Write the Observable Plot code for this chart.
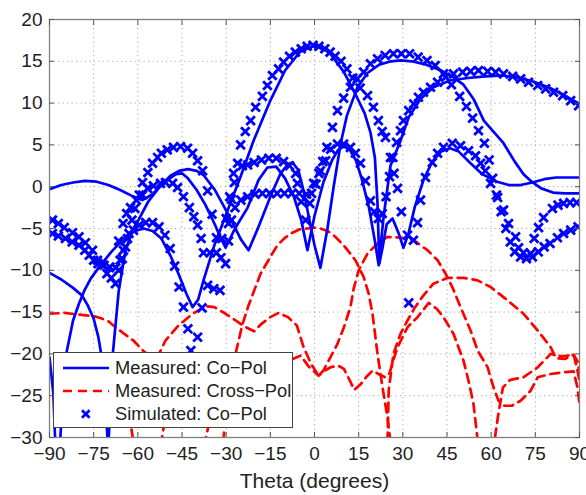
<!DOCTYPE html>
<html>
<head>
<meta charset="utf-8">
<script src="https://cdn.jsdelivr.net/npm/d3@7"></script>
<script src="https://cdn.jsdelivr.net/npm/@observablehq/plot@0.6"></script>
<style>
  html, body { margin: 0; padding: 0; background: #fff; }
  #wrap { position: relative; width: 586px; height: 495px; font-family: "Liberation Sans", Arial, sans-serif; }
  #legend { position: absolute; left: 53px; top: 352px; width: 240px; height: 76px; background: #fff;
            border: 1px solid #444; box-sizing: border-box; font-size: 18.3px; color: #222; }
  .row { position: absolute; left: 0; height: 22px; display: flex; align-items: center; white-space: nowrap; }
  .row svg { margin-left: 8px; margin-right: 5px; }
</style>
</head>
<body>
<div id="wrap">
  <div id="chart"></div>
  <div id="legend"></div>
</div>
<script>
const xTicks = [-90, -75, -60, -45, -30, -15, 0, 15, 30, 45, 60, 75, 90];
const yTicks = [-30, -25, -20, -15, -10, -5, 0, 5, 10, 15, 20];
const legendLabels = ["Measured: Co\u2212Pol", "Measured: Cross\u2212Pol", "Simulated: Co\u2212Pol"];
const xLabel = "Theta (degrees)";

// Measured co-pol (solid blue)
const measCoBroad = [[-86.5,-31],[-84.6,-20.5],[-82,-16],[-80,-14],[-78,-12.3],[-76,-11],[-72.7,-9.4],[-69,-7.8],[-65,-6.3],[-61,-5.3],[-58,-5.0],[-55,-5.3],[-52,-6.2],[-49,-8.2],[-46.2,-10.4],[-43.5,-12.8],[-41.4,-14.4],[-39.5,-13.5],[-37.7,-11.2],[-34,-7],[-30,-3.3],[-25,1.3],[-20.7,5.5],[-15,10.3],[-10,13.9],[-5,16.1],[0,16.9],[5,16.1],[10,13.7],[14,11],[17,8.8],[19,6.5],[20.5,3.5],[21.4,-2],[22,-9.2],[23,-7.5],[24.5,-4.5],[26.5,-3.8],[28.5,-5.5],[30.2,-7.3],[32,-5.5],[34,-2.5],[37,0.8],[40,3.0],[43,4.2],[46,4.6],[49,4.2],[53,2.8],[57,1.5],[62,0.6],[66,0.2],[70,0.2],[74,0.5],[78,0.9],[82,1.1],[86,1.1],[90,1.1]];
const measCo30 = [[-90,-0.3],[-86,0.2],[-82,0.5],[-78,0.7],[-74,0.6],[-70,0.2],[-66,-0.4],[-62,-1.1],[-58.5,-1.6],[-55,-0.9],[-52,0.2],[-49,1.3],[-46,1.9],[-43,2.1],[-40,1.9],[-37.7,1.4],[-34,-0.3],[-31,-2.2],[-28,-4.2],[-25,-6.3],[-22.4,-7.6],[-19,-4.8],[-15,-1.2],[-11.5,1.6],[-9,2.7],[-7.5,2.9],[-5.5,2.0],[-3.7,-0.5],[-2,-3.5],[0,-7],[2,-9.7],[4.4,-5],[6.5,0],[8.9,5.2],[11,8.5],[14.6,11.9],[18,13.6],[22,14.6],[26,15.0],[29.2,15.1],[33,15.0],[38,14.6],[43,13.9],[47,13.1],[50.6,12.2],[54,10.5],[57.5,7.9],[61,6.5],[64.2,5.2],[68,3.0],[71,1.5],[73.4,0.7],[77,-0.2],[81,-0.7],[85,-0.8],[90,-0.8]];
const measCo55 = [[-70,-31],[-68.6,-20.4],[-66.5,-12.5],[-64.2,-7.6],[-61.5,-5.0],[-59.8,-4.0],[-56.5,-1.8],[-53,-0.2],[-50,0.8],[-47,1.5],[-45,1.6],[-43,1.0],[-40,-0.4],[-37,-2.2],[-34,-4.4],[-32,-6],[-30.2,-7.3],[-27,-5],[-22.7,-2.5],[-19,0.8],[-16,2.3],[-13,2.4],[-10,1.0],[-7,-1.2],[-4.5,-4],[-2.4,-7.6],[0,-3.5],[3,0.5],[6,3.2],[8,4.4],[10,4.8],[12,4.4],[14,3.2],[16,1],[18.5,-2.5],[20.5,-6.5],[21.8,-9.4],[23.5,-3.5],[25.8,2.5],[29.2,5.5],[32,8.3],[36,10.5],[40.4,11.9],[46,12.7],[52,13.0],[58,13.2],[64,13.3],[70,13.0],[75,12.5],[80,11.8],[85,10.9],[90,9.9]];
const measCoLow = [[-90,-10.3],[-86,-11.1],[-82,-12.1],[-79,-13],[-77,-14.2],[-75,-15.8],[-73.4,-18],[-72,-21],[-71,-25],[-70.2,-31]];
const measCoEdge = [[-90,-20.4],[-88.7,-24.7],[-88,-31]];

// Simulated co-pol (blue crosses)
const simBroad = [[-89,-5.6],[-87,-5.9],[-84.6,-6.2],[-82.3,-6.6],[-80,-7.0],[-78,-7.6],[-76.5,-8.2],[-75,-8.8],[-73.5,-9.2],[-71.5,-9.4],[-69.5,-9.6],[-67.5,-9.7],[-66,-8.8],[-64.9,-7.6],[-63.5,-6.2],[-61.5,-5.2],[-59.5,-4.6],[-57.3,-4.3],[-55,-4.3],[-52.8,-4.8],[-50.8,-5.8],[-49,-7.4],[-47.5,-9.5],[-46,-12],[-44.5,-14.4],[-43,-17],[-42,-19.6],[-39.7,-18],[-38.2,-14.5],[-36.3,-11.8],[-34.2,-12.2],[-32.1,-12.4],[-30.2,-9.2],[-29.2,-4.4],[-28.2,-1.5],[-27.2,0.5],[-26.1,2.8],[-25.1,5.0],[-23.5,6.6],[-21.7,7.9],[-20,9.5],[-17.7,10.8],[-16,12.1],[-14.3,13.3],[-12.2,14.1],[-10.5,14.9],[-8.5,15.6],[-6.5,16.1],[-4.5,16.5],[-2.5,16.8],[-0.5,16.9],[1.5,16.8],[3.5,16.5],[5.3,16.1],[7,15.6],[9,15.0],[11,14.1],[13,13.0],[15.5,11.8],[18,10.9],[20,9.5],[21.7,7.9],[23,6.6],[24.1,5.9],[25.8,3.5],[27,1.6],[28.2,-0.2],[29.5,-3],[31.6,-5.8],[33.6,-6.4],[35,-4.3],[36,-1.6],[37.7,1.1],[40,2.9],[41.8,4.0],[43.8,4.7],[46.8,5.2],[49.6,4.9],[52.3,4.3],[54.7,3.7],[56.4,2.8],[58,1.9],[59.8,0.4],[62.2,-1.3],[64.2,-2.8],[65.9,-4.4],[68.3,-6.0],[69.3,-7.3],[71,-7.9],[73.4,-8.0],[74.6,-6.2],[76.1,-4.9],[77.8,-3.7],[80.8,-2.6],[82.7,-2.2],[84.6,-2.0],[86.8,-1.9],[89,-1.9]];
const sim30 = [[-89,-4.0],[-87,-4.4],[-85,-4.9],[-82.2,-5.5],[-80,-6.0],[-77.8,-6.7],[-75.4,-7.6],[-73.7,-8.8],[-72.3,-9.3],[-70.5,-10.4],[-69,-10.9],[-67.6,-11.6],[-66.5,-10],[-65.3,-8.6],[-64.2,-7.2],[-63,-5.6],[-62,-4.0],[-61,-2.6],[-59.5,-1.0],[-58.4,0.5],[-56.6,1.7],[-55,2.8],[-53.3,3.5],[-52,4.0],[-50,4.4],[-47.9,4.7],[-45.5,4.8],[-43.1,4.6],[-41.4,4.0],[-39.7,3.1],[-38,1.9],[-36.3,-0.5],[-34.8,-3.3],[-33.3,-6.1],[-31.8,-8.5],[-29.2,-6.5],[-28.2,-4.0],[-27,-2.5],[-25,-1.6],[-22.7,-1.2],[-20.2,-0.9],[-17.7,-0.8],[-15.2,-0.8],[-12.7,-0.8],[-10.2,-0.8],[-7.7,-0.8],[-5.2,-0.8],[-2.7,-0.9],[-1,-0.8],[0.5,0.3],[1.5,1.6],[2.8,3.0],[4.2,4.7],[6.1,7.1],[7.8,9.1],[9.9,10.6],[12.2,11.9],[14.5,12.9],[16.7,13.7],[19,14.7],[21.4,15.3],[24,15.7],[26.8,15.9],[29.5,15.9],[32.3,15.9],[35.2,15.5],[38.2,15.1],[41,14.5],[43.8,13.5],[46.5,12.2],[49.3,10.8],[51.6,9.6],[53.7,8.2],[55.7,6.7],[57.7,5.2],[59.3,3.2],[60.5,1.0],[61.8,-1.0],[63.4,-3.0],[65,-5.0],[66.5,-6.6],[68,-7.8],[70,-8.4],[72,-8.6],[74,-8.4],[76,-7.8],[78,-7.2],[80,-6.8],[82.5,-6.1],[84.6,-5.6],[87,-5.2],[89.5,-4.8]];
const sim55 = [[-66.5,-6.5],[-65,-4.4],[-63.8,-3.2],[-62.5,-2.5],[-60.5,-1.6],[-58.4,-1.0],[-56.7,-0.2],[-54.7,0.1],[-52.3,0.4],[-50.6,0.5],[-48.2,0.4],[-46.5,-0.1],[-44.5,-1.2],[-42.5,-2.5],[-41,-3.6],[-39.7,-4.6],[-38.5,-6.2],[-37.7,-7.9],[-35.5,-7.9],[-33.3,-7.9],[-31.5,-6.2],[-30,-3.8],[-28.8,-1.2],[-27.5,1.6],[-24.5,2.5],[-22.7,2.6],[-20.5,2.9],[-18,3.2],[-15.5,3.4],[-13,3.4],[-10.5,3.0],[-8.5,2.5],[-6.4,1.6],[-5.8,0.4],[-4.5,-1.8],[-3,-4.0],[-1.6,-2.0],[-0.3,0.4],[2,1.9],[3.8,3.1],[5.5,4.5],[7.8,5.1],[9.9,5.1],[12.2,4.7],[13.9,4.0],[15.6,2.8],[17.3,0.7],[19,-1.7],[20.3,-3],[21.7,-3.8],[23,-3.2],[24.3,-1.2],[25.5,1.2],[26.6,3.5],[27.9,5.3],[29.2,6.7],[30.2,7.9],[32,9.1],[33.7,9.9],[35.3,10.7],[37,11.3],[39.4,11.9],[41.8,12.5],[44.5,13.1],[47.2,13.5],[50.3,13.7],[53,13.8],[55.7,13.9],[58.8,13.8],[61.5,13.7],[64.2,13.5],[67.3,13.2],[70,12.9],[72.7,12.5],[75.8,12.1],[78.5,11.7],[81.2,11.3],[84.3,10.9],[87,10.3],[89.7,9.7]];
const simExtra = [[32,-13.9]];

// Measured cross-pol (red dashed)
const crossA = [[-90,-15.2],[-85,-15.1],[-80,-15.3],[-75,-15.5],[-72.7,-15.7],[-70,-16.1],[-68.3,-16.6],[-65,-17.5],[-61.5,-18.4],[-58,-19.7],[-55,-20.5],[-52.5,-19.8],[-50.6,-18.4],[-46.2,-16.6],[-41.4,-15.2],[-37,-14.3],[-34,-14.4],[-30.2,-15.2],[-26.8,-16],[-23.4,-16.8],[-20.5,-17.3],[-18,-16.4],[-15,-15.6],[-12.2,-15.1],[-9,-15.6],[-6,-16.6],[-3.7,-19.2],[-1,-21.3],[1.4,-22.6],[3,-22],[4.8,-20.8],[7.8,-18.8],[10,-16.8],[12.2,-14.4],[13.3,-12.2],[15,-10],[18,-8],[21.4,-6.8],[24.8,-6.0],[29.2,-6.1],[33.7,-6.4],[38.4,-7.6],[41.8,-8.8],[44.5,-10.4],[46.8,-12],[49.6,-14.4],[53,-17.2],[55.4,-19.6],[58.8,-21.6],[60.8,-24],[62.5,-25.6],[64.5,-26.2],[67,-26.2],[70,-25.6],[73.4,-24.4],[75.8,-22.8],[80.2,-22.4],[84.6,-22.2],[88,-22.1],[89.3,-24],[90,-26]];
const crossB = [[-31,-30.5],[-30,-27],[-28.5,-23.5],[-26.5,-19.5],[-24.5,-16.5],[-22.4,-14.2],[-18.3,-10.4],[-15,-8.4],[-12.6,-7.0],[-10,-6.1],[-7.5,-5.5],[-5,-5.1],[-2.4,-5.0],[0,-4.9],[2,-5.0],[4.5,-5.3],[6.5,-5.8],[9.9,-7.0],[13.9,-8.8],[16.7,-10.8],[18.4,-12.8],[19.7,-15.2],[21.4,-20],[23.1,-24],[24.8,-27.6],[25.8,-30.5]];
const crossC = [[-37.5,-31],[-35,-27],[-30,-24],[-20,-22.5],[-10,-21],[-4.7,-20.2],[-2,-21.5],[1.4,-22.6],[3.5,-22],[5.5,-21.6],[8,-21.4],[10,-21.8],[12,-23.2],[13.5,-24.3],[15.5,-23.7],[17.5,-22.8],[19.7,-22],[21.7,-22.4],[24,-22.8],[25.5,-22.3],[27,-20.5],[28.2,-19.2],[31.6,-16.8],[35,-15.6],[38.8,-13.9],[41.5,-14.6],[43.8,-15.6],[47.2,-17.6],[50.6,-20.8],[52.5,-23.5],[54,-26],[55.3,-30],[57.5,-34],[60,-33],[61.3,-30],[62.3,-27.5],[64,-24],[66.5,-23.1],[71,-22.8],[75.8,-21.6],[80.2,-20],[84,-20.3],[88,-20.1],[89.2,-21.8],[90,-23.2]];
const crossD = [[24.8,-30.5],[25.2,-24.4],[26.8,-20],[29.2,-17.6],[31.6,-16],[34,-14.5],[37,-13],[40.4,-11.6],[45.2,-10.9],[50.6,-10.9],[55.4,-11.2],[59.8,-12],[65.6,-13.6],[71,-15.2],[75.8,-17.2],[80.2,-19.2],[82,-20.5],[85,-20.6],[88,-20.1],[89.5,-21],[90,-22.5]];
const crossE = [[-66,-22],[-63.5,-26],[-61.5,-30.5],[-57,-36],[-52,-30.5],[-50,-26],[-47,-22]];

const toRows = (arr, name) => arr.map(([x, y]) => ({x, y, name}));
const coRows = [
  ...toRows(measCoBroad, "b"), ...toRows(measCo30, "30"), ...toRows(measCo55, "55"),
  ...toRows(measCoLow, "low"), ...toRows(measCoEdge, "edge")
];
const crossRows = [
  ...toRows(crossA, "A"), ...toRows(crossB, "B"), ...toRows(crossC, "C"),
  ...toRows(crossD, "D"), ...toRows(crossE, "E")
];
const simRows = [
  ...toRows(simBroad, "sb"), ...toRows(sim30, "s30"), ...toRows(sim55, "s55"), ...toRows(simExtra, "sx")
];

const fmt = d => d < 0 ? "\u2212" + Math.abs(d) : String(d);
const BLUE = "#0000ff", RED = "#ff0000";

const chart = Plot.plot({
  width: 586,
  height: 495,
  marginLeft: 49,
  marginRight: 7,
  marginTop: 19,
  marginBottom: 58,
  style: {fontFamily: "'Liberation Sans', Arial, sans-serif", fontSize: "19px", color: "#222", background: "#fff", overflow: "visible"},
  x: {domain: [-90, 90]},
  y: {domain: [-30, 20]},
  marks: [
    Plot.gridX(xTicks, {stroke: "#a8a8a8", strokeOpacity: 1, strokeWidth: 1, strokeDasharray: "1.2,3.3"}),
    Plot.gridY(yTicks, {stroke: "#a8a8a8", strokeOpacity: 1, strokeWidth: 1, strokeDasharray: "1.2,3.3"}),
    Plot.line(crossRows, {x: "x", y: "y", z: "name", stroke: RED, strokeWidth: 2.7, strokeDasharray: "9,6", clip: true}),
    Plot.line(coRows, {x: "x", y: "y", z: "name", stroke: BLUE, strokeWidth: 2.7, clip: true}),
    Plot.dot(simRows, {x: "x", y: "y", symbol: "times", r: 4, stroke: BLUE, fill: "none", strokeWidth: 2.8, clip: true}),
    Plot.frame({stroke: "#808080", strokeWidth: 1.3}),
    Plot.axisX(xTicks, {anchor: "bottom", tickSize: -5, tickPadding: 14, tickFormat: fmt, label: null, stroke: "#555"}),
    Plot.axisX(xTicks, {anchor: "top", tickSize: -5, tickFormat: () => "", label: null, stroke: "#555"}),
    Plot.axisY(yTicks, {anchor: "left", tickSize: -5, tickPadding: 12, tickFormat: fmt, label: null, stroke: "#555"}),
    Plot.axisY(yTicks, {anchor: "right", tickSize: -5, tickFormat: () => "", label: null, stroke: "#555"}),
    Plot.text([xLabel], {frameAnchor: "bottom", dy: 50, fontSize: 21, fill: "#222"})
  ]
});
document.getElementById("chart").appendChild(chart);

// Legend overlay
const legend = document.getElementById("legend");
const swatches = [
  `<svg width="48" height="10"><line x1="1" y1="5" x2="47" y2="5" stroke="${BLUE}" stroke-width="2.7"/></svg>`,
  `<svg width="48" height="10"><line x1="1" y1="5" x2="47" y2="5" stroke="${RED}" stroke-width="2.7" stroke-dasharray="9,6"/></svg>`,
  `<svg width="48" height="12"><path d="M20,2.3L27.6,9.7M27.6,2.3L20,9.7" stroke="${BLUE}" stroke-width="2.8" fill="none"/></svg>`
];
legendLabels.forEach((t, i) => {
  const row = document.createElement("div");
  row.className = "row";
  row.style.top = (4 + i * 23) + "px";
  row.innerHTML = swatches[i] + `<span>${t}</span>`;
  legend.appendChild(row);
});
</script>
</body>
</html>
